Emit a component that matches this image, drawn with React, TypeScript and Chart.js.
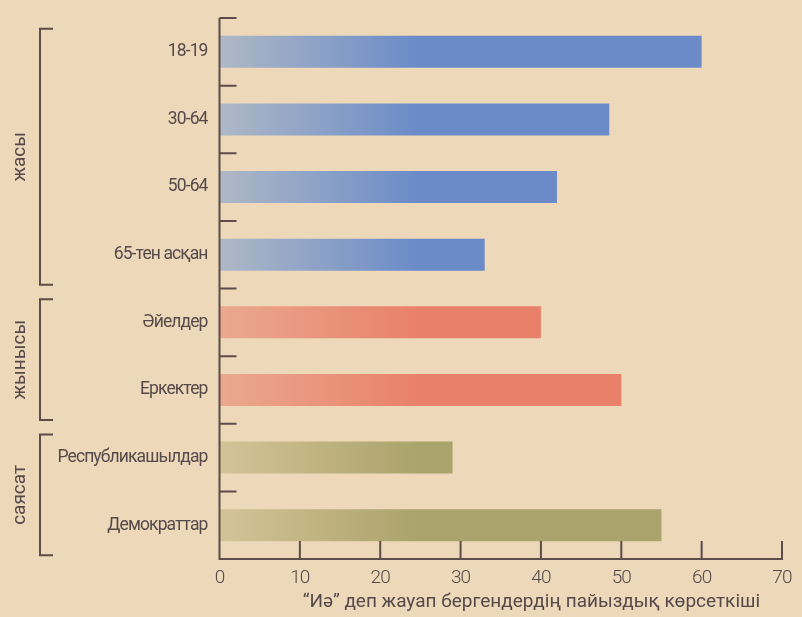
import React, { useEffect, useRef } from "react";
import { Chart, registerables } from "chart.js";

Chart.register(...registerables);

const categories = [
  "18-19",
  "30-64",
  "50-64",
  "65-тен асқан",
  "Әйелдер",
  "Еркектер",
  "Республикашылдар",
  "Демократтар",
];
const values = [60, 48.5, 42, 33, 40, 50, 29, 55];
const barGroup = [0, 0, 0, 0, 1, 1, 2, 2];

const groupLabels = ["жасы", "жынысы", "саясат"];
const groupStart = [0, 4, 6];
const groupEnd = [3, 5, 7];
const groupSolid = ["#6a8bc8", "#e9806a", "#aaa36b"];
const groupLight = ["#aeb8c6", "#eaa98f", "#d5c397"];

const xTitle = "“Иә” деп жауап бергендердің пайыздық көрсеткіші";
const xMin = 0;
const xMax = 70;
const xStep = 10;

const BG = "#edd8ba";
const TEXT = "#56494a";
const AXIS = "#5d4c49";

const decorPlugin = {
  id: "decor",
  beforeDraw(chart: any) {
    chart.ctx.letterSpacing = "-0.9px";
  },
  afterDraw(chart: any) {
    const ctx = chart.ctx;
    const area = chart.chartArea;
    const xs = chart.scales.x;
    const ys = chart.scales.y;
    const n = categories.length;
    const step = (ys.getPixelForValue(n - 1) - ys.getPixelForValue(0)) / (n - 1);
    ctx.save();
    ctx.letterSpacing = "0px";
    ctx.strokeStyle = AXIS;
    ctx.lineWidth = 2;
    ctx.beginPath();
    ctx.moveTo(area.left, area.top);
    ctx.lineTo(area.left, area.bottom);
    ctx.lineTo(area.right + 1, area.bottom);
    ctx.stroke();
    ctx.beginPath();
    for (let i = 0; i < n; i++) {
      const y = ys.getPixelForValue(i) - step / 2;
      ctx.moveTo(area.left, y);
      ctx.lineTo(area.left + 17, y);
    }
    ctx.stroke();
    ctx.beginPath();
    for (let v = xMin + xStep; v <= xMax; v += xStep) {
      const x = xs.getPixelForValue(v);
      ctx.moveTo(x, area.bottom);
      ctx.lineTo(x, area.bottom - 18);
    }
    ctx.stroke();
    ctx.fillStyle = TEXT;
    ctx.font = "19px Roboto";
    for (let g = 0; g < groupLabels.length; g++) {
      const top = ys.getPixelForValue(groupStart[g]) - 23;
      const bot = ys.getPixelForValue(groupEnd[g]) + 30;
      ctx.beginPath();
      ctx.moveTo(53, top);
      ctx.lineTo(40, top);
      ctx.lineTo(40, bot);
      ctx.lineTo(53, bot);
      ctx.stroke();
      ctx.save();
      ctx.translate(20, (top + bot) / 2);
      ctx.rotate(-Math.PI / 2);
      ctx.textAlign = "center";
      ctx.textBaseline = "middle";
      ctx.fillText(groupLabels[g], 0, 0);
      ctx.restore();
    }
    ctx.font = "19px Roboto";
    ctx.textAlign = "right";
    ctx.textBaseline = "alphabetic";
    ctx.fillText(xTitle, area.right - 22, area.bottom + 48);
    ctx.restore();
  },
};

export default function App() {
  const ref = useRef<HTMLCanvasElement | null>(null);
  useEffect(() => {
    document.body.style.margin = "0";
    const canvas = ref.current!;
    const chart = new Chart(canvas, {
      type: "bar",
      data: {
        labels: categories,
        datasets: [
          {
            data: values,
            backgroundColor: (c: any) => {
              const g = barGroup[c.dataIndex] ?? 0;
              const chartObj = c.chart;
              const area = chartObj.chartArea;
              if (!area) return groupSolid[g];
              const grad = chartObj.ctx.createLinearGradient(area.left, 0, area.left + 200, 0);
              grad.addColorStop(0, groupLight[g]);
              grad.addColorStop(1, groupSolid[g]);
              return grad;
            },
            borderWidth: 0,
            barPercentage: 0.475,
            categoryPercentage: 1,
          },
        ],
      },
      options: {
        indexAxis: "y",
        responsive: false,
        animation: false,
        layout: { padding: { top: 18, right: 20, left: 0, bottom: 0 } },
        plugins: {
          legend: { display: false },
          tooltip: { enabled: false },
        },
        scales: {
          x: {
            min: xMin,
            max: xMax,
            grid: { display: false, drawTicks: false },
            border: { display: false },
            ticks: {
              stepSize: xStep,
              padding: 8,
              color: TEXT,
              font: { family: "Roboto", size: 19, weight: "300" },
              maxRotation: 0,
            },
            afterFit: (s: any) => {
              s.height = 58;
            },
          },
          y: {
            grid: { display: false, drawTicks: false },
            border: { display: false },
            ticks: {
              padding: 12,
              color: TEXT,
              font: { family: "Roboto", size: 17.5 },
            },
            afterFit: (s: any) => {
              s.width = 219.5;
              s.paddingTop = 0;
              s.paddingBottom = 0;
            },
          },
        },
      },
      plugins: [decorPlugin],
    } as any);
    return () => chart.destroy();
  }, []);
  return (
    <div
      style={{
        position: "fixed",
        left: 0,
        top: 0,
        width: 802,
        height: 617,
        background: BG,
      }}
    >
      <canvas ref={ref} width={802} height={617} style={{ display: "block" }} />
    </div>
  );
}
